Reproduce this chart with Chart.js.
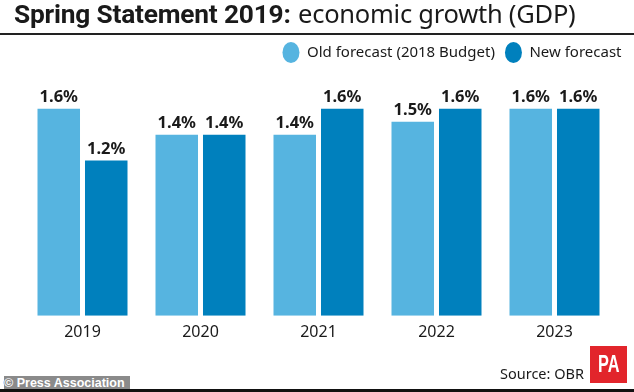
<!DOCTYPE html>
<html>
<head>
<meta charset="utf-8">
<script src="https://cdn.jsdelivr.net/npm/chart.js@4/dist/chart.umd.min.js"></script>
<style>
  html, body { margin: 0; padding: 0; background: #fff; }
  body { width: 634px; height: 392px; position: relative; overflow: hidden; font-family: "Noto Sans", sans-serif; color: #1a1a1a; }
  #wrap { position: absolute; left: 0; top: 0; width: 634px; height: 392px; }
  #title { position: absolute; left: 14px; top: -3px; font-size: 25.5px; line-height: 32px; white-space: nowrap; letter-spacing: -0.25px; }
  #title b { font: 700 26.3px/32px Roboto, sans-serif; letter-spacing: -0.2px; margin-right: 1px; }
  #rule { position: absolute; left: 0; top: 33px; width: 634px; height: 2px; background: #222; }
  #source { position: absolute; left: 500px; top: 363px; font-size: 14.5px; line-height: 20px; white-space: nowrap; }
  #logo { position: absolute; left: 590px; top: 346px; width: 37px; height: 37px; background: #e2252b; color: #fff; font: 700 24px/35px "Liberation Sans", sans-serif; text-align: center; }
  #logo span { display: inline-block; transform: scaleX(0.68); }
  #credit { position: absolute; left: 4px; top: 376px; width: 126px; height: 13px; background: #8a8a8a; color: #fff; font: 700 12.5px/14px "Liberation Sans", sans-serif; white-space: nowrap; }
  #bottom { position: absolute; left: 0; top: 389px; width: 634px; height: 3px; background: #111; }
</style>
</head>
<body>
<div id="wrap"><canvas id="myChart" width="634" height="392"></canvas></div>
<div id="title"><b>Spring Statement 2019:</b> economic growth (GDP)</div>
<div id="rule"></div>
<div id="source">Source: OBR</div>
<div id="logo"><span>PA</span></div>
<div id="credit">© Press Association</div>
<div id="bottom"></div>
<script>
const years = ['2019', '2020', '2021', '2022', '2023'];
const oldForecast = [1.6, 1.4, 1.4, 1.5, 1.6];
const newForecast = [1.2, 1.4, 1.6, 1.6, 1.6];
const oldLabel = 'Old forecast (2018 Budget)';
const newLabel = 'New forecast';

// value labels above each bar, legend nudged past the plot's right edge
const barLabels = {
  id: 'barLabels',
  afterLayout(chart) {
    chart.legend.left += 18;
    chart.legend.right += 18;
  },
  afterDatasetsDraw(chart) {
    const c = chart.ctx;
    c.save();
    c.font = '700 16.5px "Noto Sans"';
    c.fillStyle = '#1a1a1a';
    c.textAlign = 'center';
    c.textBaseline = 'alphabetic';
    chart.data.datasets.forEach((ds, i) => {
      chart.getDatasetMeta(i).data.forEach((bar, j) => {
        c.fillText(ds.data[j].toFixed(1) + '%', bar.x, bar.y - 7);
      });
    });
    c.restore();
  }
};

const ctx = document.getElementById('myChart').getContext('2d');
new Chart(ctx, {
  type: 'bar',
  data: {
    labels: years,
    datasets: [
      { label: oldLabel, data: oldForecast, backgroundColor: '#56b4e0', categoryPercentage: 0.805, barPercentage: 0.895 },
      { label: newLabel, data: newForecast, backgroundColor: '#0080bd', categoryPercentage: 0.805, barPercentage: 0.895 }
    ]
  },
  options: {
    responsive: false,
    animation: false,
    layout: { padding: { left: 23.5, right: 20.5, top: 35, bottom: 43 } },
    plugins: {
      title: { display: false },
      tooltip: { enabled: false },
      legend: {
        position: 'top',
        align: 'end',
        labels: {
          usePointStyle: true,
          pointStyle: 'circle',
          boxHeight: 17,
          pointStyleWidth: 17,
          color: '#1a1a1a',
          font: { family: '"Noto Sans"', size: 15 },
          padding: 10
        }
      }
    },
    scales: {
      x: {
        grid: { display: false, drawTicks: false },
        border: { display: false },
        ticks: { color: '#1a1a1a', font: { family: '"Noto Sans"', size: 16 }, padding: 7, maxRotation: 0 }
      },
      y: { display: false, min: 0, max: 1.9 }
    }
  },
  plugins: [barLabels]
});
</script>
</body>
</html>
